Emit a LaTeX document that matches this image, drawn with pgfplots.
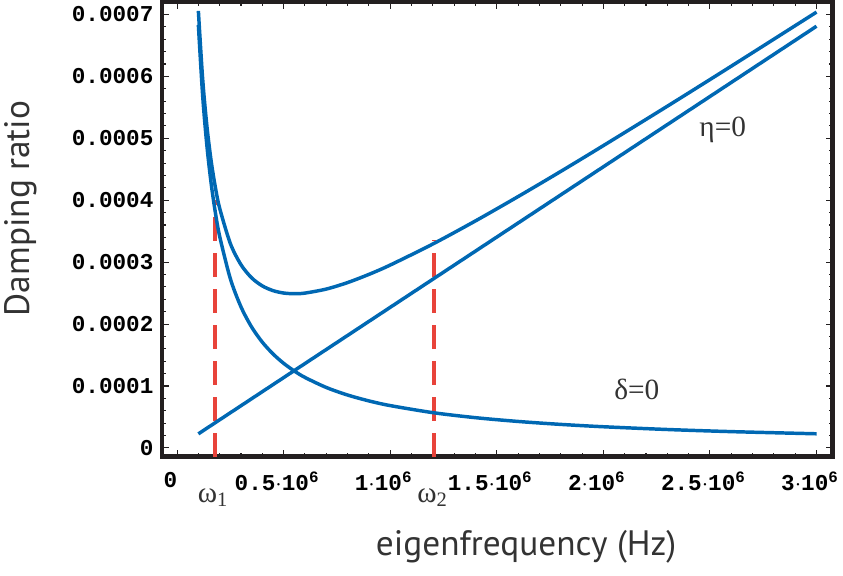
\documentclass[border=0pt]{standalone}
\usepackage{pgfplots}
\pgfplotsset{compat=1.18}
\usepackage{fontspec}
\setmainfont{Liberation Serif}
\newfontfamily\labfont{PT Sans}
\newfontfamily\monofont{Liberation Mono}
\definecolor{cblue}{HTML}{0068B3}
\definecolor{cred}{HTML}{E8433A}
\definecolor{cgray}{HTML}{333333}
\definecolor{cframe}{HTML}{231F20}
\begin{document}
\begin{tikzpicture}
\begin{axis}[
  scale only axis,
  width=503pt, height=341pt,
  xmin=-70000, xmax=3075000,
  ymin=-0.000014, ymax=0.00072,
  scaled ticks=false,
  axis line style={line width=3.1pt, cframe},
  tick style={cframe, line width=0.8pt},
  major tick length=5pt, minor tick length=3pt,
  tick align=inside,
  xtick={0,500000,1000000,1500000,2000000,2500000,3000000},
  xticklabels={0, 0.5$\cdot$10\textsuperscript{6}, 1$\cdot$10\textsuperscript{6}, 1.5$\cdot$10\textsuperscript{6}, 2$\cdot$10\textsuperscript{6}, 2.5$\cdot$10\textsuperscript{6}, 3$\cdot$10\textsuperscript{6}},
  ytick={0,0.0001,0.0002,0.0003,0.0004,0.0005,0.0006,0.0007},
  yticklabels={0,0.0001,0.0002,0.0003,0.0004,0.0005,0.0006,0.0007},
  minor x tick num=4, minor y tick num=4,
  ticklabel style={font=\monofont\bfseries\fontsize{17}{17}\selectfont, black},
  xticklabel style={yshift=-8pt, xshift=-5pt},
  yticklabel style={xshift=-3pt},
  xlabel={eigenfrequency (Hz)},
  ylabel={Damping ratio},
  label style={font=\labfont\fontsize{26.5}{26.5}\selectfont, text=cgray},
  xlabel style={at={(axis description cs:0.543,-0.198)}, anchor=center},
  ylabel style={at={(axis description cs:-0.211,0.546)}, anchor=center},
  clip=false,
]
% red dashed markers
\addplot[cred, line width=3pt, dash pattern=on 18pt off 9pt] coordinates {(177000,-0.000014) (177000,0.000400)};
\addplot[cred, line width=3pt, dash pattern=on 18pt off 9pt] coordinates {(1205000,-0.000014) (1205000,0.000335)};
% eta term (linear)
\addplot[cblue, line width=2.6pt] coordinates {(100000,0.0000227) (3000000,0.000681)};
% delta term (hyperbola)
\addplot[cblue, line width=2.6pt, smooth] coordinates {
(100000,0.000683) (120000,0.0005692) (140000,0.0004879) (160000,0.0004269)
(180000,0.0003794) (200000,0.0003415) (250000,0.0002732) (300000,0.0002277)
(350000,0.0001951) (400000,0.00017075) (450000,0.0001518) (500000,0.0001366)
(550000,0.0001242) (600000,0.0001138) (700000,0.00009757) (800000,0.00008538)
(900000,0.00007589) (1000000,0.0000683) (1200000,0.00005692) (1400000,0.00004879)
(1600000,0.00004269) (1800000,0.00003794) (2000000,0.00003415) (2300000,0.0000297)
(2600000,0.00002627) (3000000,0.00002277)};
% total
\addplot[cblue, line width=2.6pt, smooth] coordinates {
(100000,0.0007057) (120000,0.0005964) (140000,0.0005197) (160000,0.0004632)
(180000,0.0004203) (200000,0.0003869) (250000,0.0003300) (300000,0.0002958)
(350000,0.0002746) (400000,0.0002616) (450000,0.0002540) (500000,0.0002501)
(550000,0.0002490) (600000,0.0002500) (700000,0.0002565) (800000,0.0002670)
(900000,0.0002802) (1000000,0.0002953) (1200000,0.0003293) (1400000,0.0003666)
(1600000,0.0004059) (1800000,0.0004465) (2000000,0.0004882) (2300000,0.0005518)
(2600000,0.0006165) (3000000,0.0007038)};
\node[font=\fontsize{22}{22}\selectfont, text=cgray] at (axis cs:2560000,0.000513) {η=0};
\node[font=\fontsize{22}{22}\selectfont, text=cgray] at (axis cs:2157000,0.0000952) {δ=0};
\node[font=\fontsize{22}{22}\selectfont, text=cgray] at (axis cs:168000,-0.000080) {ω\textsubscript{1}};
\node[font=\fontsize{22}{22}\selectfont, text=cgray] at (axis cs:1198000,-0.000080) {ω\textsubscript{2}};
\path (axis description cs:0.5,-0.261) coordinate (bb);
\end{axis}
\end{tikzpicture}
\end{document}
